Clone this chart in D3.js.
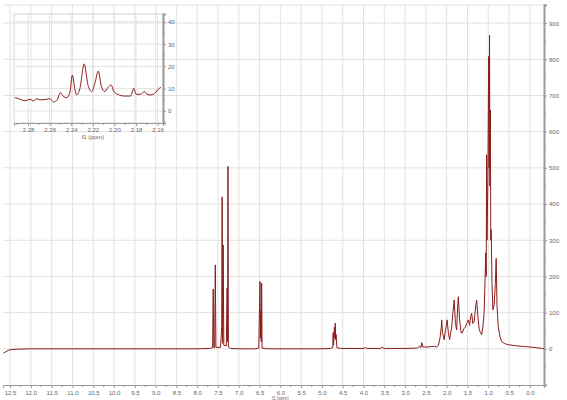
<!DOCTYPE html>
<html>
<head>
<meta charset="utf-8">
<script src="https://cdn.jsdelivr.net/npm/d3@7"></script>
<style>
  body { margin: 0; background: #fff; }
  svg text { font-family: "Liberation Sans", "DejaVu Sans", sans-serif; fill: #666; }
</style>
</head>
<body>
<div class="chart"></div>
<script>
// main spectrum, chemical shift (ppm) and intensity
var mainShift = [12.66, 12.6, 12.54, 12.45, 12.3, 12.0, 11.0, 10.0, 9.0, 8.0, 7.7,
  7.63, 7.615, 7.6, 7.58, 7.565, 7.55, 7.44, 7.41, 7.40, 7.39, 7.375, 7.36,
  7.30, 7.28, 7.27, 7.26, 7.25, 7.2, 7.0, 6.6, 6.52, 6.49, 6.48, 6.47, 6.46, 6.45, 6.44, 6.3,
  5.5, 5.0, 4.8, 4.74, 4.73, 4.72, 4.70, 4.69, 4.68, 4.67, 4.66, 4.64, 4.55,
  4.0, 3.95, 3.9, 3.6, 3.55, 3.5, 3.0, 2.7, 2.65, 2.62, 2.60, 2.57, 2.45, 2.3,
  2.24, 2.20, 2.16, 2.13, 2.12, 2.10, 2.06, 2.03, 1.99, 1.96, 1.93, 1.88, 1.85, 1.82,
  1.79, 1.76, 1.74, 1.72, 1.69, 1.65, 1.62, 1.59, 1.55, 1.52, 1.48, 1.45, 1.42, 1.40,
  1.37, 1.34, 1.30, 1.28, 1.25, 1.22, 1.19, 1.16, 1.13, 1.10, 1.08, 1.06, 1.05, 1.04,
  1.03, 1.01, 0.99, 0.98, 0.97, 0.96, 0.95, 0.94, 0.93, 0.91, 0.89, 0.86, 0.83, 0.81,
  0.79, 0.76, 0.72, 0.68, 0.6, 0.5, 0.3, 0.1, -0.1, -0.3, -0.34];
var mainIntensity = [-12, -8, -4, -2, -1, 0, 0, 0, 0, 0, 1,
  3, 165, 3, 3, 232, 4, 4, 60, 420, 15, 287, 10,
  8, 168, 20, 504, 5, 1, 0, 0, 2, 186, 30, 105, 20, 181, 2, 0,
  0, 0, 1, 3, 45, 10, 60, 30, 71, 25, 40, 3, 1,
  1, 3, 1, 1, 4, 1, 1, 2, 8, 3, 17, 5, 5, 7,
  5, 10, 30, 60, 80, 45, 25, 50, 80, 45, 25, 60, 100, 135,
  70, 52, 110, 144, 80, 43, 45, 55, 60, 70, 80, 65, 90, 98,
  70, 75, 120, 135, 90, 55, 45, 39, 60, 100, 180, 265, 200, 536,
  300, 470, 808, 500, 867, 450, 660, 300, 329, 180, 108, 120, 180, 250,
  120, 60, 35, 20, 14, 11, 8, 6, 4, 1, 0];

// inset: zoom of 2.29 - 2.16 ppm
var insetShift = [2.292, 2.287, 2.283, 2.278, 2.275, 2.272, 2.269, 2.263, 2.260, 2.256,
  2.253, 2.250, 2.247, 2.244, 2.241, 2.239, 2.2365, 2.235, 2.232, 2.228, 2.2245, 2.221,
  2.218, 2.215, 2.212, 2.209, 2.206, 2.203, 2.2005, 2.197, 2.191, 2.185, 2.182, 2.180,
  2.176, 2.172, 2.170, 2.166, 2.162, 2.1595, 2.157];
var insetIntensity = [6.0, 5.2, 4.6, 5.2, 4.5, 5.5, 5.0, 5.2, 5.5, 4.0,
  5.0, 8.2, 6.4, 6.0, 9.0, 16.1, 9.4, 7.2, 10.0, 21.1, 11.7, 8.7,
  12.5, 17.9, 10.9, 8.7, 10.5, 11.7, 8.7, 7.5, 6.7, 6.7, 10.2, 7.5,
  7.5, 8.7, 7.5, 7.2, 8.2, 9.7, 10.6];

// tick values
var mainXTicks = d3.range(0, 12.51, 0.5);
var mainYTicks = d3.range(0, 901, 100);
var insetXTicks = [2.28, 2.26, 2.24, 2.22, 2.20, 2.18, 2.16];
var insetYTicks = [0, 10, 20, 30, 40];

var svgWidth = 567;
var svgHeight = 400;

var svg = d3.select(".chart")
  .append("svg")
  .attr("width", svgWidth)
  .attr("height", svgHeight);

var lineColor = "#8b1c1c";
var gridColor = "#e2e2e2";
var axisColor = "#9a9a9a";

// ---- main plot ----
var x = d3.scaleLinear().domain([12.67, -0.34]).range([3, 544]);
var y = d3.scaleLinear().domain([-100, 950]).range([385, 5]);

var grid = svg.append("g");
grid.selectAll(".vg")
  .data(mainXTicks)
  .enter()
  .append("line")
  .attr("x1", d => x(d)).attr("x2", d => x(d))
  .attr("y1", 5).attr("y2", 385)
  .attr("stroke", gridColor);
grid.selectAll(".hg")
  .data(mainYTicks)
  .enter()
  .append("line")
  .attr("x1", 3).attr("x2", 544)
  .attr("y1", d => y(d)).attr("y2", d => y(d))
  .attr("stroke", gridColor);
grid.append("line")
  .attr("x1", 3).attr("x2", 544)
  .attr("y1", 5).attr("y2", 5)
  .attr("stroke", gridColor);

// bottom axis
var bottomAxis = d3.axisBottom(x)
  .tickValues(mainXTicks)
  .tickFormat(d3.format(".1f"))
  .tickSize(3)
  .tickPadding(3);
var xAxis = svg.append("g")
  .attr("transform", `translate(0, ${y(-100)})`)
  .call(bottomAxis);
xAxis.append("g").selectAll("line")
  .data(d3.range(0.25, 12.5, 0.5))
  .enter()
  .append("line")
  .attr("x1", d => x(d)).attr("x2", d => x(d))
  .attr("y1", 0).attr("y2", 2);

// right axis
var rightAxis = d3.axisRight(y)
  .tickValues(mainYTicks)
  .tickSize(3)
  .tickPadding(2);
var yAxis = svg.append("g")
  .attr("transform", `translate(${x(-0.34)}, 0)`)
  .call(rightAxis);
yAxis.append("g").selectAll("line")
  .data(d3.range(-50, 951, 100))
  .enter()
  .append("line")
  .attr("x1", 0).attr("x2", 2)
  .attr("y1", d => y(d)).attr("y2", d => y(d));

// axis title sits at the very bottom edge, like the reference
svg.append("text")
  .attr("x", x(6.0))
  .attr("y", 399.5)
  .attr("text-anchor", "middle")
  .style("font-size", "4.5px")
  .text("f1 (ppm)");

// spectrum
var mainLine = d3.line()
  .x(d => x(d[0]))
  .y(d => y(d[1]));
svg.append("path")
  .datum(mainShift.map((s, i) => [s, mainIntensity[i]]))
  .attr("d", mainLine)
  .attr("fill", "none")
  .attr("stroke", lineColor)
  .attr("stroke-width", 1)
  .attr("stroke-linejoin", "round");

// ---- inset ----
var ix = d3.scaleLinear().domain([2.293, 2.155]).range([14, 163]);
var iy = d3.scaleLinear().domain([-5.4, 43.5]).range([123, 14]);

var inset = svg.append("g");
inset.append("rect")
  .attr("x", 14).attr("y", 14)
  .attr("width", 149).attr("height", 109)
  .attr("fill", "none")
  .attr("stroke", "#d6d6d6");
inset.selectAll(".ivg")
  .data(insetXTicks)
  .enter()
  .append("line")
  .attr("x1", d => ix(d)).attr("x2", d => ix(d))
  .attr("y1", 14).attr("y2", 123)
  .attr("stroke", gridColor);
inset.selectAll(".ihg")
  .data(insetYTicks)
  .enter()
  .append("line")
  .attr("x1", 14).attr("x2", 163)
  .attr("y1", d => iy(d)).attr("y2", d => iy(d))
  .attr("stroke", gridColor);

var insetBottom = d3.axisBottom(ix)
  .tickValues(insetXTicks)
  .tickFormat(d3.format(".2f"))
  .tickSize(3)
  .tickPadding(2);
var ixAxis = inset.append("g")
  .attr("transform", "translate(0, 123)")
  .call(insetBottom);
ixAxis.append("g").selectAll("line")
  .data(d3.range(2.17, 2.29, 0.02))
  .enter()
  .append("line")
  .attr("x1", d => ix(d)).attr("x2", d => ix(d))
  .attr("y1", 0).attr("y2", 2);

var insetRight = d3.axisRight(iy)
  .tickValues(insetYTicks)
  .tickSize(3)
  .tickPadding(2);
var iyAxis = inset.append("g")
  .attr("transform", "translate(163, 0)")
  .call(insetRight);
iyAxis.append("g").selectAll("line")
  .data([-5, 5, 15, 25, 35])
  .enter()
  .append("line")
  .attr("x1", 0).attr("x2", 2)
  .attr("y1", d => iy(d)).attr("y2", d => iy(d));

inset.append("text")
  .attr("x", ix(2.22))
  .attr("y", 139)
  .attr("text-anchor", "middle")
  .style("font-size", "6px")
  .text("f1 (ppm)");

var insetLine = d3.line()
  .curve(d3.curveMonotoneX)
  .x(d => ix(d[0]))
  .y(d => iy(d[1]));
inset.append("path")
  .datum(insetShift.map((s, i) => [s, insetIntensity[i]]))
  .attr("d", insetLine)
  .attr("fill", "none")
  .attr("stroke", lineColor)
  .attr("stroke-width", 1);

// axis styling
svg.selectAll(".domain")
  .attr("stroke", axisColor);
yAxis.select(".domain").attr("stroke-width", 2);
iyAxis.select(".domain").attr("stroke-width", 2);
svg.selectAll(".tick line, g g line")
  .attr("stroke", axisColor);
svg.selectAll(".tick text")
  .style("font-size", "6px")
  .attr("fill", "#666");
</script>
</body>
</html>
